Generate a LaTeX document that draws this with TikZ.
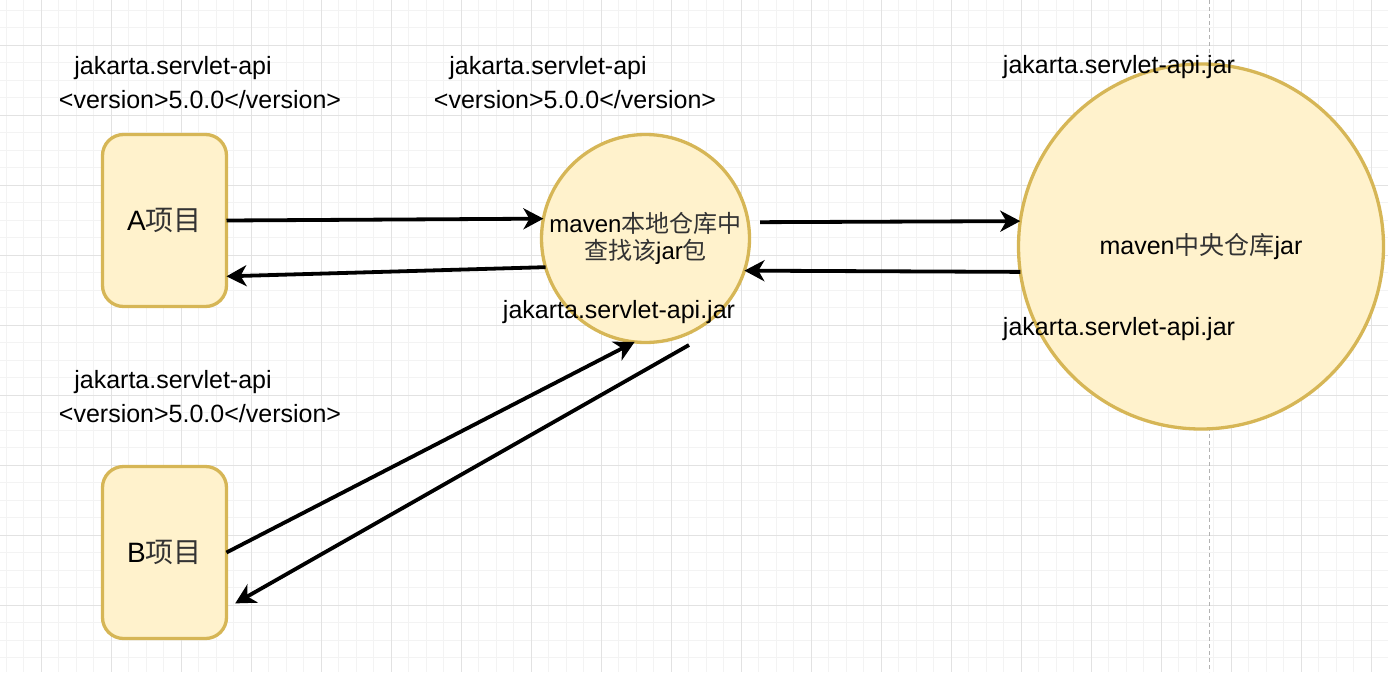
\documentclass[tikz,border=0pt]{standalone}
\usepackage{fontspec}
\setmainfont{Liberation Sans}
\newfontfamily\cjk{Noto Sans CJK SC}
\usepackage{tikz}
\usetikzlibrary{arrows.meta}
\definecolor{notefill}{HTML}{FFF2CC}
\definecolor{noteline}{HTML}{D6B656}
\definecolor{gridminor}{HTML}{F3F3F3}
\definecolor{gridmajor}{HTML}{E2E2E2}
\newcommand{\zh}[1]{{\cjk\color{black!80}#1}}

\begin{document}
\begin{tikzpicture}[x=1pt, y=-1pt,
  proj/.style={draw=noteline, fill=notefill, line width=3.3pt, rectangle,
               rounded corners=21pt, minimum width=124pt, minimum height=172pt,
               inner sep=0pt, outer sep=0pt, font=\fontsize{28}{32}\selectfont},
  repo/.style={draw=noteline, fill=notefill, line width=3.3pt, circle,
               minimum size=#1, inner sep=0pt, outer sep=0pt, align=center},
  lbl/.style={anchor=base, font=\fontsize{25}{30}\selectfont},
  arr/.style={line width=3.8pt, -{Stealth[length=20pt, width=21pt, inset=6pt]}},
]
\useasboundingbox (0,0) rectangle (1391,672);

%% Background grid
\foreach \gx in {6.3,23.8,...,1388} \draw[gridminor, line width=1pt] (\gx,0) -- (\gx,672);
\foreach \gy in {10.3,27.8,...,672} \draw[gridminor, line width=1pt] (0,\gy) -- (1388,\gy);
\foreach \gx in {41.3,111.3,...,1388} \draw[gridmajor, line width=1pt] (\gx,0) -- (\gx,672);
\foreach \gy in {45.3,115.3,...,672} \draw[gridmajor, line width=1pt] (0,\gy) -- (1388,\gy);
\draw[black!30, line width=1pt, dash pattern=on 4pt off 3pt] (1209.5,0) -- (1209.5,672);

%% Projects
\node[proj] (A) at (164.5,220.5) {A\zh{项目}};
\node[proj] (B) at (164.5,552.5) {B\zh{项目}};

%% Repositories
\node[repo=208pt, font=\fontsize{24}{27}\selectfont] (loc) at (645.5,238.5)
  {maven\zh{本地仓库中}\\\zh{查找该}jar\zh{包}};
\node[repo=365pt, font=\fontsize{25}{30}\selectfont] (cen) at (1201,246.5)
  {maven\zh{中央仓库}jar};
\coordinate (locout) at (689,345);

%% Dependency labels
\node[lbl] (aname) at (173,74) {jakarta.servlet-api};
\node[lbl] (aver) at (200,108) {<version>5.0.0</version>};
\node[lbl] (bname) at (173,388) {jakarta.servlet-api};
\node[lbl] (bver) at (200,422) {<version>5.0.0</version>};
\node[lbl] (lname) at (548,74) {jakarta.servlet-api};
\node[lbl] (lver) at (575,108) {<version>5.0.0</version>};
\node[lbl] (locjar) at (619,318) {jakarta.servlet-api.jar};
\node[lbl] (cenjar) at (1119,73) {jakarta.servlet-api.jar};
\node[lbl] (cenjarb) at (1119,335) {jakarta.servlet-api.jar};

%% Requests and replies
\draw[arr] (A.east) -- (loc.169.5);
\draw[arr] (loc.196.4) -- (A.-42.3);
\draw[arr, shorten <=12pt] (loc.9.2) -- (cen.172.1);
\draw[arr] (cen.188.5) -- (loc.-18.6);
\draw[arr] (B.east) -- (loc.264.8);
\draw[arr, shorten >=10pt] (locout) -- (B.-42.2);
\end{tikzpicture}
\end{document}
